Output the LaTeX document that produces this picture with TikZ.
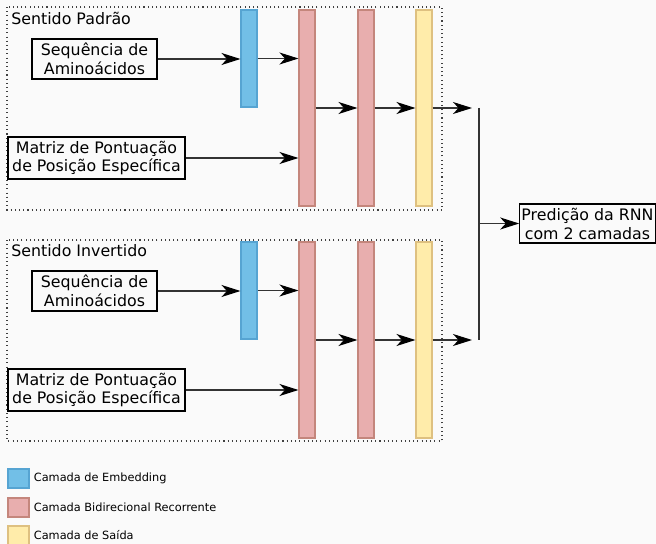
\documentclass[tikz,border=0pt]{standalone}
\usepackage{fontspec}
\setmainfont{DejaVu Sans}
\usetikzlibrary{arrows.meta,positioning,calc}

\definecolor{bgcol}{RGB}{250,250,250}
\definecolor{embfill}{RGB}{114,191,231}
\definecolor{embline}{RGB}{86,164,210}
\definecolor{recfill}{RGB}{232,174,174}
\definecolor{recline}{RGB}{196,134,124}
\definecolor{outfill}{RGB}{255,236,170}
\definecolor{outline}{RGB}{222,192,128}

\begin{document}
\begin{tikzpicture}[
  x=0.02cm, y=-0.02cm,
  layer/.style={draw, minimum width=0.32cm, inner sep=0pt, line width=0.6pt},
  emb/.style={layer, fill=embfill, draw=embline, minimum height=1.94cm},
  rec/.style={layer, fill=recfill, draw=recline, minimum height=3.92cm},
  outlayer/.style={layer, fill=outfill, draw=outline, minimum height=3.92cm},
  inbox/.style={draw, fill=bgcol, align=center, inner sep=1pt, line width=0.6pt, font=\fontsize{9}{10.8}\selectfont},
  flow/.style={draw=black!80, line width=0.6pt, -{Stealth[length=0.38cm, width=0.24cm, inset=0.11cm, black]}},
  group/.style={draw=black!75, line width=0.6pt, dash pattern=on 0.6pt off 1.8pt},
  title/.style={anchor=west, inner sep=0pt, font=\fontsize{9}{10.8}\selectfont},
  keybox/.style={draw, minimum width=0.42cm, minimum height=0.38cm, inner sep=0pt, line width=0.6pt},
  keytext/.style={inner sep=0pt, font=\fontsize{6.45}{7.7}\selectfont}
]
\clip (0,0) rectangle (656,544);
\fill[bgcol] (0,0) rectangle (656,544);

% forward direction
\draw[group] (7,7) rectangle (442,210);
\node[title] (tpad) at (11,18.5) {Sentido Padrão};
\node[inbox, minimum width=2.5cm, minimum height=0.8cm] (seqA) at (94.5,59) {Sequência de\\Aminoácidos};
\node[inbox, minimum width=3.54cm, minimum height=0.84cm] (matA) at (96.5,158) {Matriz de Pontuação\\de Posição Específica};
\node[emb] (embA) at (249,58.5) {};
\node[rec] (recA1) at (307,108) {};
\node[rec] (recA2) at (366,108) {};
\node[outlayer] (outA) at (424,108) {};
\coordinate (endA) at (472,108);

% inverted direction
\draw[group] (7,240) rectangle (442,441);
\node[title] (tinv) at (11,251) {Sentido Invertido};
\node[inbox, minimum width=2.5cm, minimum height=0.8cm] (seqB) at (94.5,291) {Sequência de\\Aminoácidos};
\node[inbox, minimum width=3.54cm, minimum height=0.84cm] (matB) at (96.5,390) {Matriz de Pontuação\\de Posição Específica};
\node[emb] (embB) at (249,290.5) {};
\node[rec] (recB1) at (307,340) {};
\node[rec] (recB2) at (366,340) {};
\node[outlayer] (outB) at (424,340) {};
\coordinate (endB) at (472,340);

\node[inbox] (pred) [minimum width=2.66cm, minimum height=0.78cm] at (587.5,223.5) {Predição da RNN\\com 2 camadas};

\foreach \s in {A,B} {
  \draw[flow] (seq\s) -- (embA.west |- seq\s);
  \draw[flow] (emb\s.east) -- (emb\s.east -| recA1.west);
  \draw[flow] (mat\s) -- (recA1.west |- mat\s);
  \draw[flow] (rec\s1) -- (rec\s2);
  \draw[flow] (rec\s2) -- (out\s);
  \draw[flow] (out\s) -- (end\s);
}

% merge
\coordinate (jtop) at (479,108);
\coordinate (jbot) at (479,340);
\draw[draw=black!80, line width=0.6pt] (jtop) -- (jbot);
\draw[flow] (jtop |- pred) -- (pred);

% legend
\node[keybox, fill=embfill, draw=embline] (key1) at (18.5,478.5) {};
\node[keybox, fill=recfill, draw=recline] (key2) at (18.5,507.5) {};
\node[keybox, fill=outfill, draw=outline] (key3) at (18.5,535.5) {};
\node[keytext, right=0.08cm of key1] {Camada de Embedding};
\node[keytext, right=0.08cm of key2] {Camada Bidirecional Recorrente};
\node[keytext, right=0.08cm of key3] {Camada de Saída};
\end{tikzpicture}
\end{document}
